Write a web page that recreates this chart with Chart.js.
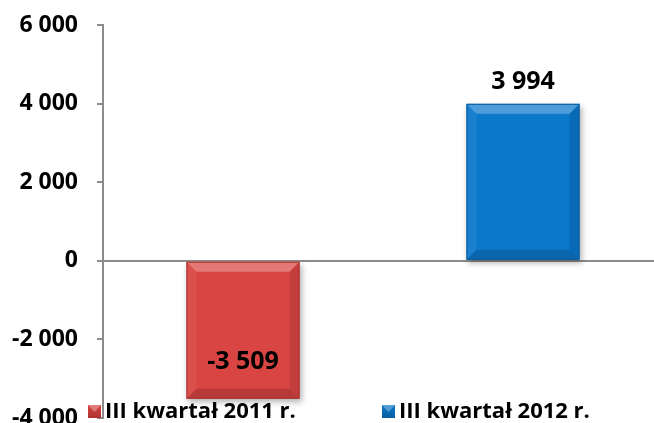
<!DOCTYPE html>
<html>
<head>
<meta charset="utf-8">
<script src="https://cdn.jsdelivr.net/npm/chart.js@4.4.1/dist/chart.umd.min.js"></script>
<style>
  html, body { margin: 0; padding: 0; background: #fff; overflow: hidden; }
  #wrap { width: 654px; height: 423px; overflow: hidden; position: relative; }
  canvas { position: absolute; left: 0; top: 0; }
</style>
</head>
<body>
<div id="wrap"><canvas id="chart" width="664" height="440"></canvas></div>
<script>
// Data
const categories = ['III kwartał 2011 r.', 'III kwartał 2012 r.'];
const values = [-3509, 3994];
const barColors = ['#D94542', '#0B78CC'];
const barDark = ['#A8302E', '#075A9C'];
const yTicks = [6000, 4000, 2000, 0, -2000, -4000];

const FONT = "'Open Sans', sans-serif";
const gray = '#8C8C8C';

const fmt = n => String(n).replace(/\B(?=(\d{3})+(?!\d))/g, ' ');

// bevel look, drawn over each bar, plus the value labels
const bevelPlugin = {
  id: 'bevel',
  beforeDatasetsDraw(chart) {
    const ctx = chart.ctx;
    ctx.save();
    ctx.shadowColor = 'rgba(0,0,0,0.3)';
    ctx.shadowBlur = 6;
    ctx.shadowOffsetX = 2;
    ctx.shadowOffsetY = 3;
  },
  afterDatasetsDraw(chart) {
    const ctx = chart.ctx;
    ctx.restore();
    const meta = chart.getDatasetMeta(0);
    meta.data.forEach((bar, i) => {
      const p = bar.getProps(['x', 'y', 'base', 'width'], true);
      const l = p.x - p.width / 2, r = p.x + p.width / 2;
      const t = Math.min(p.y, p.base), b = Math.max(p.y, p.base);
      const s = 10;
      ctx.save();
      ctx.fillStyle = 'rgba(255,255,255,0.28)';
      ctx.beginPath();
      ctx.moveTo(l, t); ctx.lineTo(r, t); ctx.lineTo(r - s, t + s); ctx.lineTo(l + s, t + s); ctx.closePath();
      ctx.fill();
      ctx.fillStyle = 'rgba(255,255,255,0.06)';
      ctx.beginPath();
      ctx.moveTo(l, t); ctx.lineTo(l + s, t + s); ctx.lineTo(l + s, b - s); ctx.lineTo(l, b); ctx.closePath();
      ctx.fill();
      ctx.fillStyle = 'rgba(0,0,0,0.1)';
      ctx.beginPath();
      ctx.moveTo(r, t); ctx.lineTo(r - s, t + s); ctx.lineTo(r - s, b - s); ctx.lineTo(r, b); ctx.closePath();
      ctx.fill();
      ctx.fillStyle = 'rgba(0,0,0,0.15)';
      ctx.beginPath();
      ctx.moveTo(l, b); ctx.lineTo(r, b); ctx.lineTo(r - s, b - s); ctx.lineTo(l + s, b - s); ctx.closePath();
      ctx.fill();
      ctx.strokeStyle = barDark[i];
      ctx.lineWidth = 1;
      ctx.strokeRect(l + 0.5, t + 0.5, p.width - 1, b - t - 1);
      ctx.restore();
    });

    ctx.save();
    ctx.font = 'bold 25px ' + FONT;
    ctx.fillStyle = '#000';
    ctx.textAlign = 'center';
    ctx.textBaseline = 'middle';
    meta.data.forEach((bar, i) => {
      const v = values[i];
      const y = v >= 0 ? bar.y - 22 : bar.y - 37;
      ctx.fillText(fmt(v), bar.x, y);
    });
    ctx.restore();
  }
};

// legend drawn over the bottom of the plot, like the original
const legendPlugin = {
  id: 'overLegend',
  afterDraw(chart) {
    const ctx = chart.ctx;
    const a = chart.chartArea;
    const items = [
      { x: a.left - 15, label: categories[0], i: 0 },
      { x: a.left + 279, label: categories[1], i: 1 }
    ];
    const y = 412;
    ctx.save();
    ctx.font = 'bold 22px ' + FONT;
    ctx.textBaseline = 'middle';
    items.forEach(it => {
      const g = ctx.createLinearGradient(0, y - 7, 0, y + 7);
      g.addColorStop(0, barColors[it.i]);
      g.addColorStop(1, barDark[it.i]);
      ctx.fillStyle = g;
      ctx.fillRect(it.x, y - 7, 13, 13);
      ctx.fillStyle = 'rgba(255,255,255,0.3)';
      ctx.beginPath();
      ctx.moveTo(it.x, y - 7); ctx.lineTo(it.x + 13, y - 7); ctx.lineTo(it.x + 6.5, y); ctx.closePath();
      ctx.fill();
      ctx.fillStyle = '#000';
      ctx.fillText(it.label, it.x + 17, y);
    });
    ctx.restore();
  }
};

function draw() {
  new Chart(document.getElementById('chart'), {
    type: 'bar',
    data: {
      labels: categories,
      datasets: [{
        data: values,
        backgroundColor: barColors,
        borderWidth: 0,
        categoryPercentage: 1,
        barPercentage: 0.404
      }]
    },
    options: {
      responsive: false,
      animation: false,
      layout: { padding: { top: 25, bottom: 22, left: 0, right: 1 } },
      plugins: { legend: { display: false }, tooltip: { enabled: false } },
      scales: {
        x: { display: false },
        y: {
          min: -4000,
          max: 6000,
          afterBuildTicks: scale => { scale.ticks = yTicks.map(v => ({ value: v })); },
          afterFit: scale => {
            scale.width = 103;
            scale.paddingTop = 0;
            scale.paddingBottom = 0;
          },
          border: { display: true, color: gray, width: 2 },
          grid: {
            drawOnChartArea: true,
            color: c => (c.tick && c.tick.value === 0 ? gray : 'transparent'),
            lineWidth: 2,
            tickColor: gray,
            tickLength: 6
          },
          ticks: {
            padding: 19,
            color: '#000',
            font: { family: FONT, size: 23, weight: 'bold' },
            callback: v => fmt(v)
          }
        }
      }
    },
    plugins: [bevelPlugin, legendPlugin]
  });
}

document.fonts.load('bold 23px "Open Sans"').then(draw, draw);
</script>
</body>
</html>
